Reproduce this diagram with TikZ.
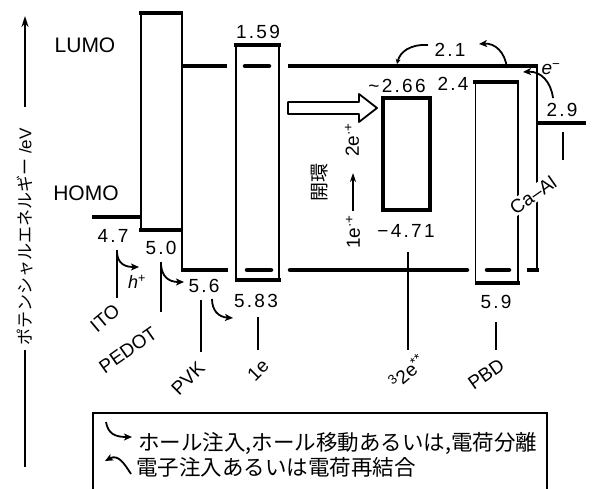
\documentclass[tikz,border=0pt]{standalone}
\usepackage{fontspec}
\setmainfont{Liberation Sans}
\newfontfamily\jp{Noto Sans CJK JP}
\newfontfamily\numf[LetterSpace=12]{Liberation Sans}
\usetikzlibrary{arrows.meta}
\begin{document}
\begin{tikzpicture}[x=1pt,y=-1pt,
  lvl/.style={line width=4.5pt},
  side/.style={line width=1.6pt},
  lead/.style={line width=1.4pt},
  num/.style={font={\numf\fontsize{19}{19}\selectfont}, inner sep=0pt},
  big/.style={font={\fontsize{21}{21}\selectfont}, inner sep=0pt},
  lab/.style={font={\fontsize{19}{19}\selectfont}, inner sep=1pt, rotate=40},
  hk/.style={line width=1.8pt, -{Stealth[length=8pt,width=7pt,inset=2pt]}},
  legtxt/.style={font={\jp\fontsize{21.5}{21.5}\selectfont}, inner sep=0pt, anchor=west},
]
\useasboundingbox (0,0) rectangle (592,489);

% axis
\draw[line width=2.2pt, -{Stealth[length=11pt,width=7pt]}] (25,107) -- (25,16);
\node[rotate=90, inner sep=0pt, font={\fontsize{17}{17}\selectfont}] (axis) at (25,237) {{\jp ポテンシャルエネルギー} /eV};
\draw[line width=2.2pt] (25,350) -- (25,467);

\node[big] (lumo) at (85,45) {LUMO};
\node[big] (homo) at (86,193) {HOMO};

% ITO
\draw[lvl] (92,217) -- (140,217);
% PEDOT box
\draw[side] (141,11) -- (141,232);
\draw[line width=2.6pt] (182,11) -- (182,272);
\draw[lvl] (139,13) -- (183,13);
\draw[lvl] (139,230) -- (183,230);

% PVK frame (dashed through boxes)
\draw[lvl] (182,66) -- (227,66);
\draw[lvl, line cap=round] (245,66) -- (269,66);
\draw[lvl] (288,66) -- (538,66);
\draw[lvl] (182,270) -- (228,270);
\draw[lvl, line cap=round] (247,270) -- (271,270);
\draw[lvl, line cap=round] (290,270) -- (467,270);
\draw[lvl, line cap=round] (487,270) -- (509,270);
\draw[lvl] (527,270) -- (539,270);
\draw[line width=2.6pt] (537,64) -- (537,272);

% Ca-Al level
\draw[lvl] (537,123) -- (586,123);

% 1e box
\draw[side] (236,45) -- (236,280);
\draw[side] (279,45) -- (279,280);
\draw[lvl] (234,45) -- (281,45);
\draw[lvl] (235,280) -- (281,280);

% 32e** box
\draw[line width=4.5pt] (383,98) rectangle (430,210);

% PBD box
\draw[line width=1pt] (475,82) -- (475,283);
\draw[line width=1.2pt] (518,82) -- (518,283);
\draw[lvl] (473,82) -- (519,82);
\draw[lvl] (475,283) -- (520,283);

% hollow arrow
\draw[line width=1.8pt, fill=white, line join=round] (288,102) -- (359,102) -- (359,94) -- (377,108) -- (359,122) -- (359,114) -- (288,114) -- cycle;

% numbers
\node[num] (n159) at (258,32) {1.59};
\node[num] (n47) at (113,236) {4.7};
\node[num] (n50) at (161,248) {5.0};
\node[num] (n56) at (204,286) {5.6};
\node[num] (n583) at (256,301) {5.83};
\node[num] (n266) at (397,86) {\textasciitilde2.66};
\node[num] (n471) at (406,231) {−4.71};
\node[num] (n21) at (450,50) {2.1};
\node[num] (n24) at (453,84) {2.4};
\node[num] (n29) at (562,110) {2.9};
\node[num] (n59) at (496,302) {5.9};
\node[inner sep=0pt, font={\fontsize{19}{19}\selectfont}] (em) at (551,69) {\textit{e}\textsuperscript{−}};
\node[inner sep=0pt, font={\fontsize{18}{18}\selectfont}] (hp) at (137,282) {\textit{h}\textsuperscript{+}};

% hooks (hole)
\draw[lead] (117,250) -- (117,298);
\draw[hk] (117,253) .. controls (118,263) and (124,267) .. (139,267);
\draw[lead] (161,262) -- (161,312);
\draw[hk] (161,265) .. controls (162,276) and (168,282) .. (184,282);
\draw[lead] (201,300) -- (201,352);
\draw[hk] (212,299) .. controls (212,310) and (218,317) .. (233,318);

% electron arcs
\draw[line width=1.8pt, -{Stealth[length=5pt,width=5pt]}] (428,45) .. controls (410,44) and (400,52) .. (397,64);
\draw[hk] (507,68) .. controls (505,52) and (495,43) .. (479,44);
\draw[hk] (553,98) .. controls (551,82) and (541,71) .. (523,72);

% leaders
\draw[lead] (258,317) -- (258,350);
\draw[lead] (408,252) -- (408,350);
\draw[lead] (496,322) -- (496,350);
\draw[lead] (563,132) -- (563,160);

% rotated labels
\node[lab] (ito) at (105,318) {ITO};
\node[lab, rotate=-5] (pedot) at (128,350) {PEDOT};
\node[lab, rotate=5] (pvk) at (188,378) {PVK};
\node[lab, rotate=5] (one) at (258,370) {1e};
\node[lab] (three) at (407,372) {\textsuperscript{3}2e\textsuperscript{**}};
\node[lab, rotate=-5] (pbd) at (486,374) {PBD};
\node[lab, rotate=-5, fill=white] (caal) at (533,195) {Ca–Al};

% vertical texts
\node[rotate=90, inner sep=0pt, font={\fontsize{19}{19}\selectfont}] (twoe) at (352,140) {2e\textsuperscript{·+}};
\node[rotate=90, inner sep=0pt, font={\jp\fontsize{19}{19}\selectfont}] (kaikan) at (320,183) {開環};
\node[rotate=90, inner sep=0pt, font={\fontsize{19}{19}\selectfont}] (onee) at (353,232) {1e\textsuperscript{·+}};
\draw[line width=2pt, -{Stealth[length=9pt,width=6pt]}] (353,211) -- (353,173);

% legend
\draw[line width=1.2pt] (93,495) -- (93,413) -- (547,413) -- (547,495);
\draw[hk] (106,422) .. controls (108,433) and (114,437) .. (132,437);
\node[legtxt] (leg1) at (138,443) {ホール注入,ホール移動あるいは,電荷分離};
\draw[hk] (131,474) .. controls (124,463) and (118,454) .. (105,461);
\node[legtxt] (leg2) at (136,467) {電子注入あるいは電荷再結合};
\end{tikzpicture}
\end{document}
